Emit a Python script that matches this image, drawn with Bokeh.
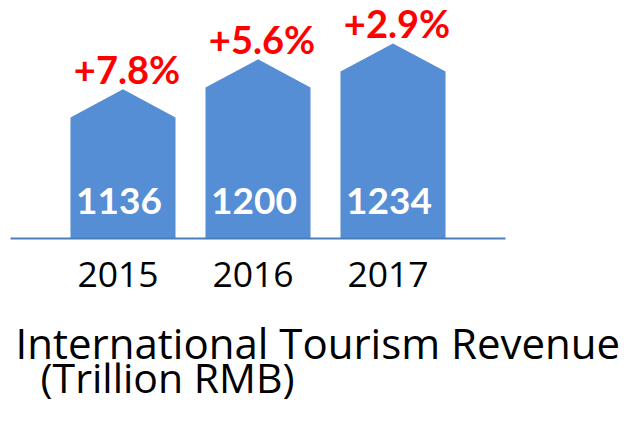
from bokeh.plotting import figure
from bokeh.models import ColumnDataSource, Range1d, Label
from bokeh.core.properties import value
from bokeh.embed import file_html
from bokeh.resources import INLINE

# ---- data ----
years = ["2015", "2016", "2017"]
revenue = [1136, 1200, 1234]
growth = ["+7.8%", "+5.6%", "+2.9%"]
title_line1 = "International Tourism Revenue"
title_line2 = "(Trillion RMB)"

# ---- style / layout constants ----
BASE = 878          # value at which the bars start (truncated axis)
CAP = 60            # height of the roof (in value units)
BAR_W = 0.778
BAR_COLOR = "#558ED5"
LINE_COLOR = "#4A7EBB"

W, H = 624, 405
px_per_x = 135.0
x0_px = 122.5
px_per_y = 0.469
base_px = H - 238.0

x_start = -x0_px / px_per_x
x_end = (W - x0_px) / px_per_x
y_start = BASE - base_px / px_per_y
y_end = y_start + H / px_per_y

xs_idx = list(range(len(years)))
patch_xs, patch_ys = [], []
for i, v in zip(xs_idx, revenue):
    patch_xs.append([i - BAR_W / 2, i - BAR_W / 2, i, i + BAR_W / 2, i + BAR_W / 2])
    patch_ys.append([BASE, v, v + CAP, v, BASE])

src = ColumnDataSource(dict(
    x=xs_idx, year=years, rev=revenue, rev_txt=[str(v) for v in revenue],
    growth=growth, top=[v + CAP for v in revenue], base=[BASE] * len(years),
))

p = figure(width=W, height=H, output_backend="svg", toolbar_location=None,
           x_range=Range1d(x_start, x_end), y_range=Range1d(y_start, y_end),
           min_border=0, min_border_left=0, min_border_right=0,
           min_border_top=0, min_border_bottom=0)
p.axis.visible = False
p.grid.visible = False
p.outline_line_color = None
p.background_fill_color = "white"
p.border_fill_color = "white"

p.patches(patch_xs, patch_ys, fill_color=BAR_COLOR, line_color=None)

# baseline
p.segment(x0=[xs_idx[0] - 0.833], x1=[xs_idx[-1] + 0.833], y0=[BASE], y1=[BASE],
          line_color=LINE_COLOR, line_width=2)

# growth labels
p.text(x="x", y="top", text="growth", source=src, text_color="#FF0000",
       text_font=value("Lato"), text_font_style="bold", text_font_size="38px",
       text_align="center", text_baseline="alphabetic", x_offset=4, y_offset=-20)

# value labels inside bars
p.text(x="x", y="base", text="rev_txt", source=src, text_color="white",
       text_font=value("Lato"), text_font_style="bold", text_font_size="37px",
       text_align="center", text_baseline="alphabetic", x_offset=-4, y_offset=-38)

# year labels
p.text(x="x", y="base", text="year", source=src, text_color="black",
       text_font=value("Open Sans"), text_font_size="35.5px",
       text_align="center", text_baseline="alphabetic", x_offset=-5, y_offset=36)

p.add_layout(Label(x=15, y=63, x_units="screen", y_units="screen", text=title_line1,
                   text_font="Open Sans", text_font_size="42px", text_color="black",
                   text_baseline="alphabetic"))
p.add_layout(Label(x=40, y=29, x_units="screen", y_units="screen", text=title_line2,
                   text_font="Open Sans", text_font_size="41px", text_color="black",
                   text_baseline="alphabetic"))

open("out.html", "w").write(file_html(p, INLINE))
